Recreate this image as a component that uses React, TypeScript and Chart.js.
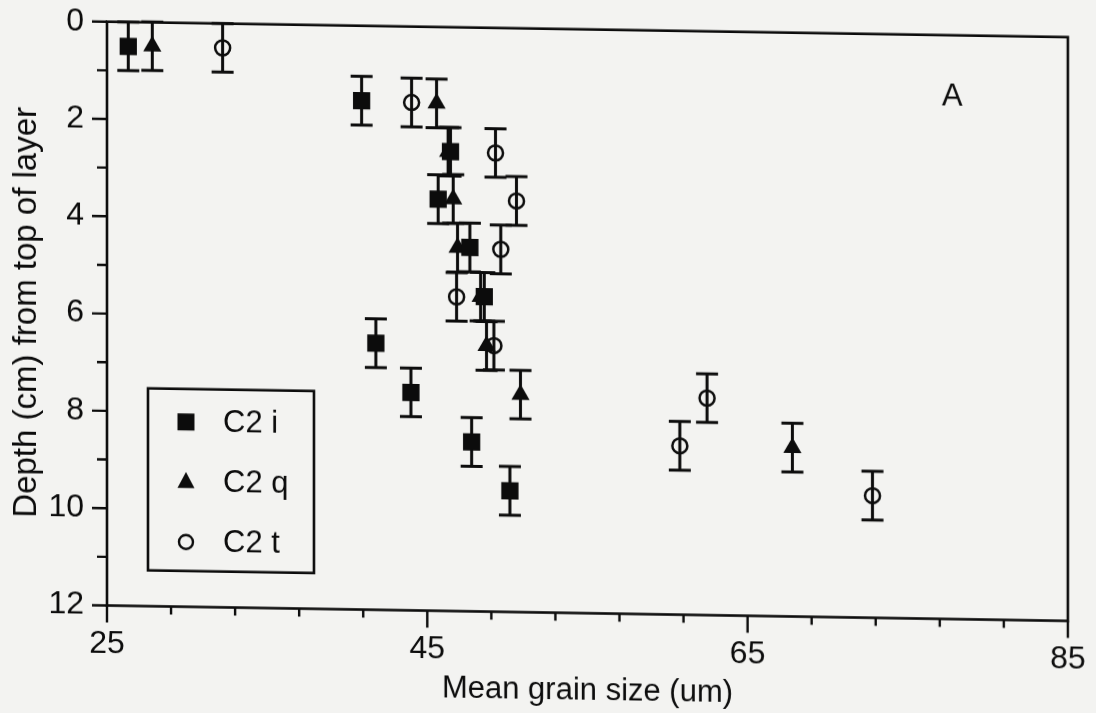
import React, { useEffect, useRef } from 'react';
import { Chart, registerables } from 'chart.js';

Chart.register(...registerables);

// Mean grain size (um) and depth (cm) for each core sample series
const seriesNames = ['C2 i', 'C2 q', 'C2 t'];

const grainI = [26.33, 40.9, 46.45, 45.68, 47.66, 48.56, 41.79, 43.98, 47.77, 50.16];
const depthI = [0.5, 1.54, 2.56, 3.54, 4.52, 5.53, 6.52, 7.52, 8.52, 9.51];

const grainQ = [27.83, 45.58, 46.3, 46.62, 46.89, 48.33, 48.7, 50.82, 67.8];
const depthQ = [0.49, 1.57, 2.56, 3.53, 4.53, 5.53, 6.54, 7.53, 8.53];

const grainT = [32.22, 44.02, 49.26, 50.57, 49.59, 46.83, 49.16, 62.47, 60.77, 72.8];
const depthT = [0.5, 1.56, 2.57, 3.55, 4.55, 5.54, 6.53, 7.54, 8.53, 9.49];

// half-length of the depth uncertainty bars (cm)
const depthError = 0.5;

// axis ranges and tick marks
const xRange = [25, 85];
const xLabelStep = 20;
const xMinorStep = 4;
const yRange = [0, 12];
const yLabelStep = 2;
const yMinorStep = 1;

const panelLabel = 'A';

const INK = '#0c0c0c';
const PAPER = '#f3f3f1';
const FONT = "'Liberation Sans', Arial, Helvetica, sans-serif";

const toPoints = (xs: number[], ys: number[]) => xs.map((v, i) => ({ x: v, y: ys[i] }));

const errorBars = {
  id: 'errorBars',
  beforeDatasetsDraw(chart: any) {
    const { ctx, scales } = chart;
    const x = scales.x;
    const y = scales.y;
    ctx.save();
    ctx.strokeStyle = INK;
    ctx.lineWidth = 3;
    chart.data.datasets.forEach((ds: any) => {
      ds.data.forEach((p: any) => {
        const px = x.getPixelForValue(p.x);
        const top = y.getPixelForValue(p.y - depthError);
        const bot = y.getPixelForValue(p.y + depthError);
        ctx.beginPath();
        ctx.moveTo(px, top);
        ctx.lineTo(px, bot);
        ctx.moveTo(px - 11, top);
        ctx.lineTo(px + 11, top);
        ctx.moveTo(px - 11, bot);
        ctx.lineTo(px + 11, bot);
        ctx.stroke();
      });
    });
    ctx.restore();
  },
};

const frameAndTicks = {
  id: 'frameAndTicks',
  afterDraw(chart: any) {
    const { ctx, chartArea, scales } = chart;
    const x = scales.x;
    const y = scales.y;
    const { left, right, top, bottom } = chartArea;
    ctx.save();
    ctx.strokeStyle = INK;
    ctx.lineWidth = 2.6;
    ctx.strokeRect(left, top, right - left, bottom - top);

    ctx.lineWidth = 2.4;
    ctx.beginPath();
    for (let v = xRange[0]; v <= xRange[1] + 1e-9; v += xMinorStep) {
      const px = x.getPixelForValue(v);
      const major = Math.abs((v - xRange[0]) % xLabelStep) < 1e-9;
      ctx.moveTo(px, bottom);
      ctx.lineTo(px, bottom + (major ? 17 : 8));
    }
    for (let v = yRange[0]; v <= yRange[1] + 1e-9; v += yMinorStep) {
      const py = y.getPixelForValue(v);
      const major = Math.abs((v - yRange[0]) % yLabelStep) < 1e-9;
      ctx.moveTo(left, py);
      ctx.lineTo(left - (major ? 15 : 10), py);
    }
    ctx.stroke();
    ctx.restore();
  },
};

const drawMarker = (ctx: CanvasRenderingContext2D, style: string, cx: number, cy: number) => {
  ctx.beginPath();
  if (style === 'rect') {
    ctx.rect(cx - 8.5, cy - 8.5, 17, 17);
    ctx.fill();
  } else if (style === 'triangle') {
    ctx.moveTo(cx, cy - 10);
    ctx.lineTo(cx + 8.5, cy + 6);
    ctx.lineTo(cx - 8.5, cy + 6);
    ctx.closePath();
    ctx.fill();
  } else {
    ctx.arc(cx, cy, 7, 0, Math.PI * 2);
    ctx.lineWidth = 2.4;
    ctx.stroke();
  }
};

const legendBox = {
  id: 'legendBox',
  afterDraw(chart: any) {
    const { ctx, chartArea } = chart;
    const bx = chartArea.left + 41;
    const by = chartArea.top + 366;
    const bw = 166;
    const bh = 182;
    ctx.save();
    ctx.strokeStyle = INK;
    ctx.fillStyle = INK;
    ctx.lineWidth = 2.6;
    ctx.strokeRect(bx, by, bw, bh);
    ctx.font = `31px ${FONT}`;
    ctx.textBaseline = 'middle';
    ctx.textAlign = 'left';
    chart.data.datasets.forEach((ds: any, i: number) => {
      const cy = by + 33 + i * 60;
      drawMarker(ctx, ds.pointStyle, bx + 38, cy);
      ctx.fillText(ds.label, bx + 75, cy + 1);
    });
    ctx.font = `31px ${FONT}`;
    ctx.fillText(panelLabel, chartArea.left + 835, chartArea.top + 62);
    ctx.restore();
  },
};

export default function App() {
  const canvasRef = useRef<HTMLCanvasElement | null>(null);

  useEffect(() => {
    document.body.style.margin = '0';
    document.body.style.background = PAPER;
    const canvas = canvasRef.current;
    if (!canvas) return;
    const chart = new Chart(canvas, {
      type: 'scatter',
      data: {
        datasets: [
          {
            label: seriesNames[0],
            data: toPoints(grainI, depthI),
            pointStyle: 'rect',
            pointRadius: 12.2,
            backgroundColor: INK,
            borderColor: INK,
            borderWidth: 0,
          },
          {
            label: seriesNames[1],
            data: toPoints(grainQ, depthQ),
            pointStyle: 'triangle',
            pointRadius: 10.5,
            backgroundColor: INK,
            borderColor: INK,
            borderWidth: 0,
          },
          {
            label: seriesNames[2],
            data: toPoints(grainT, depthT),
            pointStyle: 'circle',
            pointRadius: 7.5,
            backgroundColor: 'rgba(0,0,0,0)',
            borderColor: INK,
            borderWidth: 2.5,
          },
        ],
      },
      options: {
        responsive: false,
        animation: false,
        events: [],
        layout: { padding: { left: 0, top: 21.7, right: 28, bottom: 0 } },
        plugins: {
          legend: { display: false },
          tooltip: { enabled: false },
        },
        scales: {
          x: {
            type: 'linear',
            position: 'bottom',
            min: xRange[0],
            max: xRange[1],
            grid: { display: false, drawTicks: false },
            border: { display: false },
            ticks: {
              stepSize: xLabelStep,
              padding: 19,
              color: INK,
              font: { family: FONT, size: 32 },
              maxRotation: 0,
            },
            title: {
              display: true,
              text: 'Mean grain size (um)',
              color: INK,
              font: { family: FONT, size: 31 },
              padding: { top: 0, bottom: 11 },
            },
            afterFit: (s: any) => {
              s.height = 107.5;
              s.paddingLeft = 0;
              s.paddingRight = 0;
            },
          },
          y: {
            type: 'linear',
            reverse: true,
            min: yRange[0],
            max: yRange[1],
            grid: { display: false, drawTicks: false },
            border: { display: false },
            ticks: {
              stepSize: yLabelStep,
              padding: 23,
              color: INK,
              font: { family: FONT, size: 32 },
            },
            title: {
              display: true,
              text: 'Depth (cm) from top of layer',
              color: INK,
              font: { family: FONT, size: 33 },
              padding: { top: 7, bottom: 0 },
            },
            afterFit: (s: any) => {
              s.width = 107;
              s.paddingTop = 0;
              s.paddingBottom = 0;
            },
          },
        },
      },
      plugins: [errorBars, frameAndTicks, legendBox],
    });
    return () => chart.destroy();
  }, []);

  return (
    <div style={{ position: 'fixed', left: 0, top: 0, width: 1096, height: 713, background: PAPER, overflow: 'hidden' }}>
      <canvas
        ref={canvasRef}
        width={1096}
        height={713}
        style={{ display: 'block', transform: 'skewY(0.92deg)', transformOrigin: '107px 0px' }}
      />
    </div>
  );
}
